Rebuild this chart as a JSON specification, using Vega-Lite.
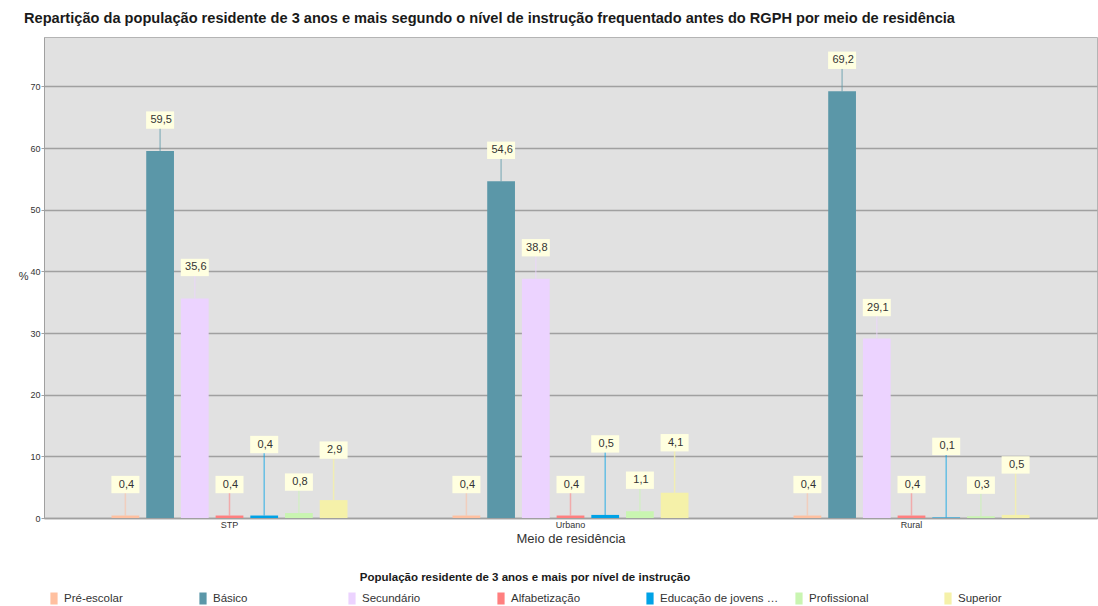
{
  "$schema": "https://vega.github.io/schema/vega-lite/v6.json",
  "autosize": {"type": "none"},
  "width": 1053,
  "height": 481,
  "padding": {"left": 44, "top": 37, "right": 1, "bottom": 88},
  "background": "white",
  "title": {
    "text": "Repartição da população residente de 3 anos e mais segundo o nível de instrução frequentado antes do RGPH por meio de residência",
    "anchor": "start",
    "frame": "group",
    "dx": -20,
    "offset": 11,
    "font": "Liberation Sans",
    "fontSize": 14.6,
    "fontWeight": "bold",
    "color": "#1a1a1a",
    "limit": 1100
  },
  "config": {
    "locale": {"number": {"decimal": ",", "thousands": ".", "grouping": [3], "currency": ["", ""]}},
    "font": "Liberation Sans",
    "view": {"fill": "#e1e1e1", "stroke": "#b4b4b4", "strokeWidth": 1}
  },
  "data": {
    "values": [
      {"meio": "STP", "nivel": "Pré-escolar", "value": 0.4},
      {"meio": "STP", "nivel": "Básico", "value": 59.5},
      {"meio": "STP", "nivel": "Secundário", "value": 35.6},
      {"meio": "STP", "nivel": "Alfabetização", "value": 0.4},
      {"meio": "STP", "nivel": "Educação de jovens e adultos", "value": 0.4},
      {"meio": "STP", "nivel": "Profissional", "value": 0.8},
      {"meio": "STP", "nivel": "Superior", "value": 2.9},
      {"meio": "Urbano", "nivel": "Pré-escolar", "value": 0.4},
      {"meio": "Urbano", "nivel": "Básico", "value": 54.6},
      {"meio": "Urbano", "nivel": "Secundário", "value": 38.8},
      {"meio": "Urbano", "nivel": "Alfabetização", "value": 0.4},
      {"meio": "Urbano", "nivel": "Educação de jovens e adultos", "value": 0.5},
      {"meio": "Urbano", "nivel": "Profissional", "value": 1.1},
      {"meio": "Urbano", "nivel": "Superior", "value": 4.1},
      {"meio": "Rural", "nivel": "Pré-escolar", "value": 0.4},
      {"meio": "Rural", "nivel": "Básico", "value": 69.2},
      {"meio": "Rural", "nivel": "Secundário", "value": 29.1},
      {"meio": "Rural", "nivel": "Alfabetização", "value": 0.4},
      {"meio": "Rural", "nivel": "Educação de jovens e adultos", "value": 0.1},
      {"meio": "Rural", "nivel": "Profissional", "value": 0.3},
      {"meio": "Rural", "nivel": "Superior", "value": 0.5}
    ]
  },
  "encoding": {
    "x": {
      "field": "meio",
      "type": "nominal",
      "sort": ["STP", "Urbano", "Rural"],
      "scale": {"paddingInner": 0.308, "paddingOuter": 0.198},
      "axis": {
        "title": "Meio de residência",
        "labelAngle": 0,
        "labelFontSize": 9,
        "labelColor": "#333333",
        "labelPadding": 2,
        "ticks": false,
        "domainColor": "#a0a0a0",
        "domainWidth": 1.5,
        "titleFontSize": 13,
        "titleFontWeight": "normal",
        "titleColor": "#333333",
        "titlePadding": 3
      }
    },
    "xOffset": {
      "field": "nivel",
      "type": "nominal",
      "sort": ["Pré-escolar", "Básico", "Secundário", "Alfabetização", "Educação de jovens e adultos", "Profissional", "Superior"],
      "scale": {"paddingInner": 0.2, "paddingOuter": 0}
    },
    "y": {
      "field": "value",
      "type": "quantitative",
      "scale": {"domain": [0, 78], "nice": false},
      "axis": {
        "title": "%",
        "titleAngle": 0,
        "titleAlign": "right",
        "titleBaseline": "middle",
        "titleX": -16,
        "titleY": 239,
        "titleFontSize": 11,
        "titleFontWeight": "normal",
        "titleColor": "#333333",
        "values": [0, 10, 20, 30, 40, 50, 60, 70],
        "labelFontSize": 9,
        "labelColor": "#333333",
        "labelPadding": 1,
        "tickSize": 3,
        "tickColor": "#a0a0a0",
        "domainColor": "#a0a0a0",
        "gridColor": "#a0a0a0",
        "gridWidth": 1.5
      }
    }
  },
  "layer": [
    {
      "mark": {"type": "bar"},
      "encoding": {
        "color": {
          "field": "nivel",
          "type": "nominal",
          "sort": ["Pré-escolar", "Básico", "Secundário", "Alfabetização", "Educação de jovens e adultos", "Profissional", "Superior"],
          "scale": {
            "domain": ["Pré-escolar", "Básico", "Secundário", "Alfabetização", "Educação de jovens e adultos", "Profissional", "Superior"],
            "range": ["#ffc0a0", "#5b97a8", "#ecd3ff", "#ff7f7f", "#00a2e6", "#c9f5b1", "#f5f1a9"]
          },
          "legend": {
            "title": "População residente de 3 anos e mais por nível de instrução",
            "orient": "none",
            "legendX": 4,
            "legendY": 535,
            "direction": "horizontal",
            "columns": 7,
            "gridAlign": "all",
            "columnPadding": 14,
            "labelLimit": 122,
            "titleAnchor": "middle",
            "titleLimit": 1000,
            "titleFontSize": 11.5,
            "titleFontWeight": "bold",
            "titleColor": "#1a1a1a",
            "titlePadding": 9,
            "labelFontSize": 11.5,
            "labelColor": "#333333",
            "symbolType": "M-0.6,-1H0.6V1H-0.6Z",
            "symbolSize": 144,
            "symbolStrokeWidth": 0,
            "symbolOpacity": 1
          }
        }
      }
    },
    {
      "transform": [{"filter": {"field": "nivel", "oneOf": ["Pré-escolar", "Básico", "Secundário", "Alfabetização", "Profissional"]}}],
      "mark": {"type": "rule", "y2Offset": -31, "strokeWidth": 1.5, "opacity": 0.55},
      "encoding": {
        "y2": {"field": "value"},
        "color": {"field": "nivel", "type": "nominal", "legend": null}
      }
    },
    {
      "transform": [{"filter": {"field": "nivel", "equal": "Superior"}}],
      "mark": {"type": "rule", "y2Offset": -50, "strokeWidth": 1.5, "opacity": 0.8},
      "encoding": {
        "y2": {"field": "value"},
        "color": {"field": "nivel", "type": "nominal", "legend": null}
      }
    },
    {
      "transform": [{"filter": {"field": "nivel", "equal": "Educação de jovens e adultos"}}],
      "mark": {"type": "rule", "y2Offset": -71, "strokeWidth": 1.5, "opacity": 0.55},
      "encoding": {
        "y2": {"field": "value"},
        "color": {"field": "nivel", "type": "nominal", "legend": null}
      }
    },
    {
      "transform": [{"filter": {"field": "nivel", "oneOf": ["Pré-escolar", "Básico", "Secundário", "Alfabetização", "Profissional"]}}],
      "mark": {"type": "point", "shape": "M-1,-0.62H1V0.62H-1Z", "size": 784, "filled": true, "fill": "#ffffe0", "opacity": 1, "strokeWidth": 0, "yOffset": -31}
    },
    {
      "transform": [{"filter": {"field": "nivel", "equal": "Superior"}}],
      "mark": {"type": "point", "shape": "M-1,-0.62H1V0.62H-1Z", "size": 784, "filled": true, "fill": "#ffffe0", "opacity": 1, "strokeWidth": 0, "yOffset": -50}
    },
    {
      "transform": [{"filter": {"field": "nivel", "equal": "Educação de jovens e adultos"}}],
      "mark": {"type": "point", "shape": "M-1,-0.62H1V0.62H-1Z", "size": 784, "filled": true, "fill": "#ffffe0", "opacity": 1, "strokeWidth": 0, "yOffset": -71}
    },
    {
      "transform": [{"filter": {"field": "nivel", "oneOf": ["Pré-escolar", "Básico", "Secundário", "Alfabetização", "Profissional"]}}],
      "mark": {"type": "text", "fontSize": 11, "color": "#333333", "baseline": "middle", "align": "center", "yOffset": -31, "dx": 1},
      "encoding": {"text": {"field": "value", "type": "quantitative", "format": ".1f"}}
    },
    {
      "transform": [{"filter": {"field": "nivel", "equal": "Superior"}}],
      "mark": {"type": "text", "fontSize": 11, "color": "#333333", "baseline": "middle", "align": "center", "yOffset": -50, "dx": 1},
      "encoding": {"text": {"field": "value", "type": "quantitative", "format": ".1f"}}
    },
    {
      "transform": [{"filter": {"field": "nivel", "equal": "Educação de jovens e adultos"}}],
      "mark": {"type": "text", "fontSize": 11, "color": "#333333", "baseline": "middle", "align": "center", "yOffset": -71, "dx": 1},
      "encoding": {"text": {"field": "value", "type": "quantitative", "format": ".1f"}}
    }
  ]
}
